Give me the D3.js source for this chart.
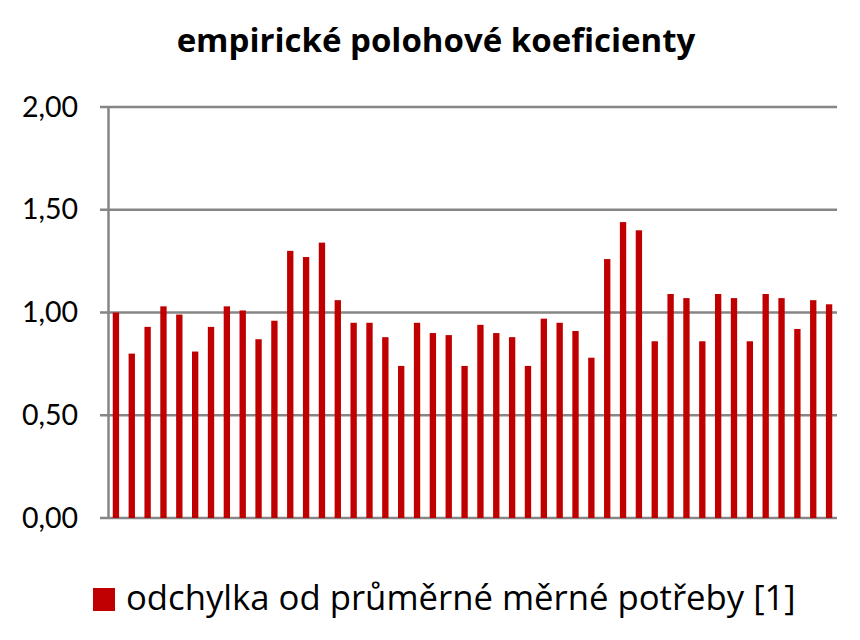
<!DOCTYPE html>
<html>
<head>
<meta charset="utf-8">
<script src="https://cdn.jsdelivr.net/npm/d3@7"></script>
<style>
  body { margin: 0; background: #fff; }
  svg text { font-family: "Open Sans", sans-serif; fill: #000; }
</style>
</head>
<body>
<svg id="chart" width="860" height="640"></svg>
<script>
// values, one per bar
var values = [
    1.00, 0.80, 0.93, 1.03, 0.99, 0.81, 0.93, 1.03, 1.01, 0.87,
    0.96, 1.30, 1.27, 1.34, 1.06, 0.95, 0.95, 0.88, 0.74, 0.95,
    0.90, 0.89, 0.74, 0.94, 0.90, 0.88, 0.74, 0.97, 0.95, 0.91,
    0.78, 1.26, 1.44, 1.40, 0.86, 1.09, 1.07, 0.86, 1.09, 1.07,
    0.86, 1.09, 1.07, 0.92, 1.06, 1.04
];
var categories = values.map(function(d, i) { return i + 1; });
var yTicks = [0, 0.5, 1, 1.5, 2];

var title = 'empirické polohové koeficienty';
var seriesName = 'odchylka od průměrné měrné potřeby [1]';

var margin = { left: 108, right: 23, top: 107, bottom: 122 };
var width = 860, height = 640;

var svg = d3.select('#chart');
var gray = '#868686', red = '#C00000';

var x = d3.scaleBand()
    .domain(categories)
    .range([margin.left, width - margin.right])
    .paddingInner(0.6)
    .paddingOuter(0.3);

var y = d3.scaleLinear()
    .domain([0, 2])
    .range([height - margin.bottom, margin.top]);

// gridlines
svg.append('g')
    .selectAll('line')
    .data(yTicks)
    .enter().append('line')
    .attr('x1', margin.left - 8)
    .attr('x2', width - margin.right)
    .attr('y1', function(d) { return y(d); })
    .attr('y2', function(d) { return y(d); })
    .attr('stroke', gray)
    .attr('stroke-width', 2.5);

// y axis
var yAxis = d3.axisLeft(y)
    .tickValues(yTicks)
    .tickSize(0)
    .tickPadding(30)
    .tickFormat(function(d) { return d3.format('.2f')(d).replace('.', ','); });

var gy = svg.append('g')
    .attr('transform', 'translate(' + margin.left + ',0)')
    .call(yAxis);
gy.select('.domain').attr('stroke', gray).attr('stroke-width', 2.5);
gy.selectAll('text')
    .style('font-size', '28.5px')
    .style('font-family', 'Lato, sans-serif')
    .attr('fill', '#000');

// bars
svg.append('g')
    .selectAll('rect')
    .data(values)
    .enter().append('rect')
    .attr('x', function(d, i) { return x(categories[i]); })
    .attr('width', x.bandwidth())
    .attr('y', function(d) { return y(d); })
    .attr('height', function(d) { return y(0) - y(d); })
    .attr('fill', red);

// title
svg.append('text')
    .attr('x', 436)
    .attr('y', 52)
    .attr('text-anchor', 'middle')
    .style('font-size', '33px')
    .style('font-weight', 'bold')
    .text(title);

// legend
var legend = svg.append('g').attr('transform', 'translate(93,588)');
legend.append('rect')
    .attr('width', 22)
    .attr('height', 23)
    .attr('fill', red);
legend.append('text')
    .attr('x', 33)
    .attr('y', 22)
    .style('font-size', '34.7px')
    .text(seriesName);
</script>
</body>
</html>
